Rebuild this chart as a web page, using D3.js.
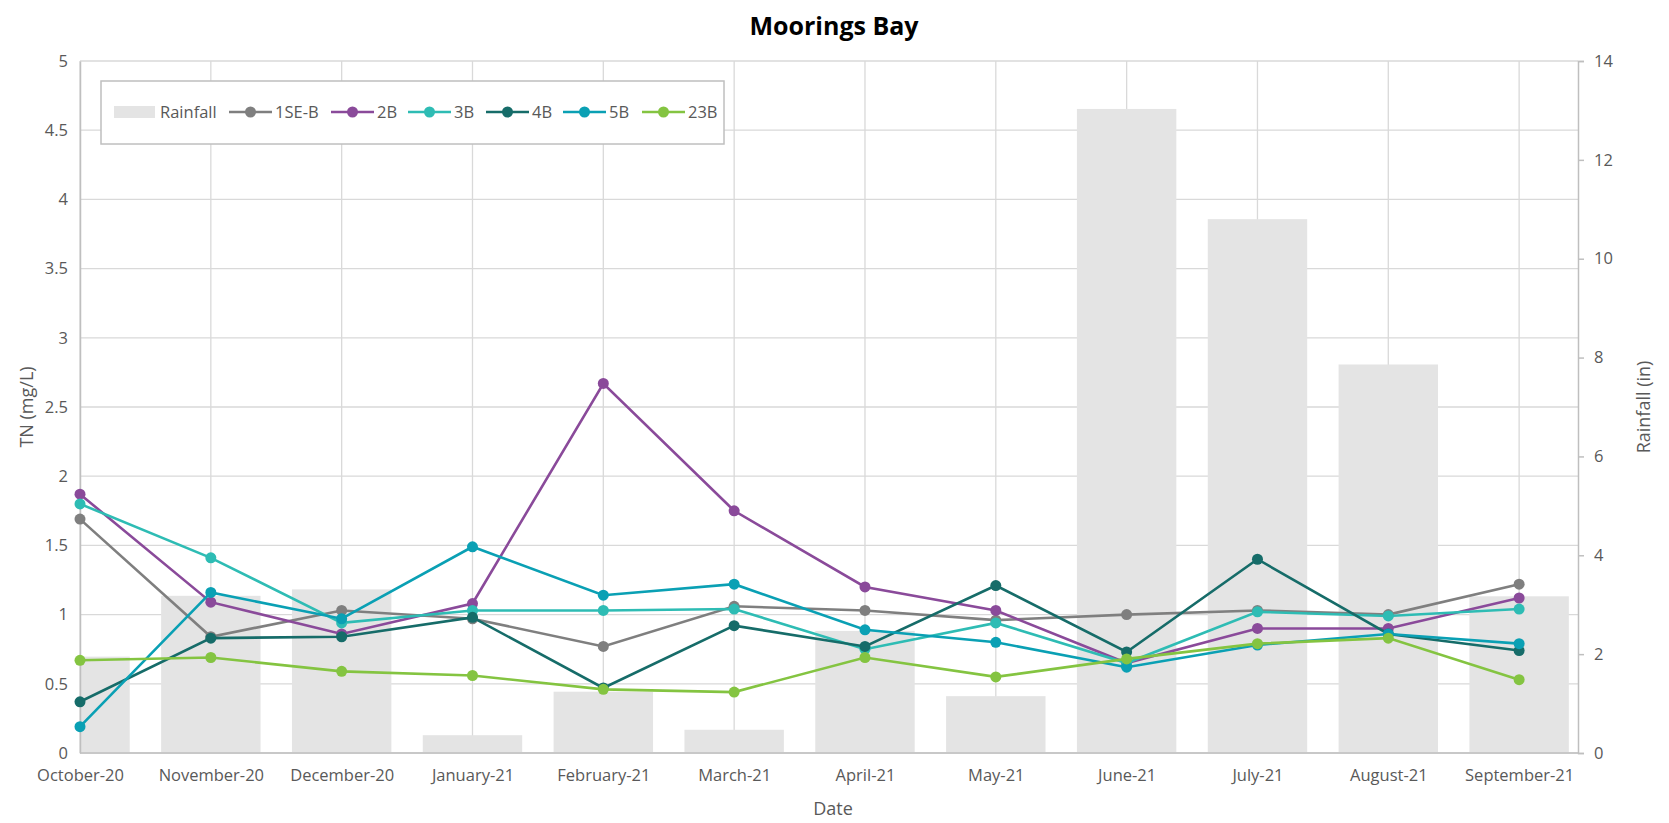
<!DOCTYPE html>
<meta charset="utf-8">
<style>
  body { margin: 0; background: #fff; }
  text { font-family: "Open Sans", "Noto Sans", sans-serif; }
</style>
<body>
<div id="chart"></div>
<script src="https://d3js.org/d3.v7.min.js"></script>
<script>

// data
var months = ["October-20", "November-20", "December-20", "January-21", "February-21", "March-21",
              "April-21", "May-21", "June-21", "July-21", "August-21", "September-21"];
var rainfall = [1.95, 3.18, 3.31, 0.36, 1.24, 0.47, 2.47, 1.15, 13.03, 10.8, 7.86, 3.17];
var tn1SEB = [1.69, 0.84, 1.03, 0.97, 0.77, 1.06, 1.03, 0.96, 1.00, 1.03, 1.00, 1.22];
var tn2B   = [1.87, 1.09, 0.86, 1.08, 2.67, 1.75, 1.20, 1.03, 0.65, 0.90, 0.90, 1.12];
var tn3B   = [1.80, 1.41, 0.94, 1.03, 1.03, 1.04, 0.75, 0.94, 0.65, 1.02, 0.99, 1.04];
var tn4B   = [0.37, 0.83, 0.84, 0.98, 0.47, 0.92, 0.77, 1.21, 0.73, 1.40, 0.86, 0.74];
var tn5B   = [0.19, 1.16, 0.97, 1.49, 1.14, 1.22, 0.89, 0.80, 0.62, 0.78, 0.86, 0.79];
var tn23B  = [0.67, 0.69, 0.59, 0.56, 0.46, 0.44, 0.69, 0.55, 0.68, 0.79, 0.83, 0.53];
var leftTicks = [0, 0.5, 1, 1.5, 2, 2.5, 3, 3.5, 4, 4.5, 5];
var rightTicks = [0, 2, 4, 6, 8, 10, 12, 14];

var series = [
  {name: "1SE-B", values: tn1SEB, color: "#7f7f7f"},
  {name: "2B",    values: tn2B,   color: "#8a4a9a"},
  {name: "3B",    values: tn3B,   color: "#2ebcb4"},
  {name: "4B",    values: tn4B,   color: "#166c69"},
  {name: "5B",    values: tn5B,   color: "#0aa0b4"},
  {name: "23B",   values: tn23B,  color: "#84c441"}
];

var W = 1669, H = 823;
var margin = {top: 61, right: 91, bottom: 70, left: 80};
var width = W - margin.left - margin.right,
    height = H - margin.top - margin.bottom;

var svg = d3.select("#chart").append("svg")
    .attr("width", W)
    .attr("height", H);

var g = svg.append("g")
    .attr("transform", "translate(" + margin.left + "," + margin.top + ")");

// categories sit on ticks, with a little room after the last one
var step = width / 11.45;
var x = d3.scalePoint()
  .domain(months)
  .range([0, step * 11]);

var y = d3.scaleLinear().domain([0, 5]).range([height, 0]);
var y2 = d3.scaleLinear().domain([0, 14]).range([height, 0]);

var gridColor = "#d9d9d9", axisColor = "#bfbfbf", textColor = "#595959";

svg.append("defs").append("clipPath").attr("id", "plotclip")
  .append("rect").attr("width", width).attr("height", height);

// gridlines
g.append("g").selectAll("line")
  .data(leftTicks)
  .enter().append("line")
    .attr("x1", 0).attr("x2", width)
    .attr("y1", function(d) { return y(d); })
    .attr("y2", function(d) { return y(d); })
    .attr("stroke", gridColor).attr("stroke-width", 1.3);

g.append("g").selectAll("line")
  .data(months)
  .enter().append("line")
    .attr("x1", function(d) { return x(d); })
    .attr("x2", function(d) { return x(d); })
    .attr("y1", 0).attr("y2", height)
    .attr("stroke", gridColor).attr("stroke-width", 1.3);

// rainfall bars
var barW = step * 0.76;
g.append("g").attr("clip-path", "url(#plotclip)")
  .selectAll("rect")
  .data(rainfall)
  .enter().append("rect")
    .attr("x", function(d, i) { return x(months[i]) - barW / 2; })
    .attr("width", barW)
    .attr("y", function(d) { return y2(d); })
    .attr("height", function(d) { return height - y2(d); })
    .attr("fill", "#e4e4e4");

// left axis
var yAxis = g.append("g")
  .call(d3.axisLeft(y).tickValues(leftTicks).tickSize(0).tickPadding(12).tickFormat(d3.format("")));
yAxis.select(".domain").attr("stroke", axisColor).attr("stroke-width", 1.5);
yAxis.selectAll("text").attr("fill", textColor).style("font-size", "16.5px");

// right axis
var y2Axis = g.append("g")
  .attr("transform", "translate(" + width + ",0)")
  .call(d3.axisRight(y2).tickValues(rightTicks).tickSize(6).tickPadding(10));
y2Axis.select(".domain").attr("stroke", axisColor).attr("stroke-width", 1.5);
y2Axis.selectAll(".tick line").attr("stroke", axisColor).attr("stroke-width", 1.5);
y2Axis.selectAll("text").attr("fill", textColor).style("font-size", "16.5px");

// bottom axis
var xAxis = g.append("g")
  .attr("transform", "translate(0," + height + ")")
  .call(d3.axisBottom(x).tickSize(0).tickPadding(16));
xAxis.select(".domain").attr("stroke", axisColor).attr("stroke-width", 1.5)
  .attr("d", "M0,0H" + width);
xAxis.selectAll("text").attr("fill", textColor).style("font-size", "16.5px");

// lines
var line = d3.line()
  .x(function(d, i) { return x(months[i]); })
  .y(function(d) { return y(d); });

series.forEach(function(s) {
  var sg = g.append("g");
  sg.append("path")
    .attr("d", line(s.values))
    .attr("fill", "none")
    .attr("stroke", s.color)
    .attr("stroke-width", 2.6);
  sg.selectAll("circle")
    .data(s.values)
    .enter().append("circle")
      .attr("cx", function(d, i) { return x(months[i]); })
      .attr("cy", function(d) { return y(d); })
      .attr("r", 5.5)
      .attr("fill", s.color);
});

// titles
svg.append("text")
  .attr("x", 834)
  .attr("y", 35)
  .attr("text-anchor", "middle")
  .style("font-size", "25px")
  .style("font-weight", "bold")
  .attr("fill", "#000")
  .text("Moorings Bay");

svg.append("text")
  .attr("transform", "translate(33," + (margin.top + height / 2) + ")rotate(-90)")
  .attr("text-anchor", "middle")
  .attr("fill", textColor)
  .style("font-size", "18px")
  .text("TN (mg/L)");

svg.append("text")
  .attr("transform", "translate(1650," + (margin.top + height / 2) + ")rotate(-90)")
  .attr("text-anchor", "middle")
  .attr("fill", textColor)
  .style("font-size", "18px")
  .text("Rainfall (in)");

svg.append("text")
  .attr("x", 833)
  .attr("y", 815)
  .attr("text-anchor", "middle")
  .attr("fill", textColor)
  .style("font-size", "18px")
  .text("Date");

// legend
var legend = svg.append("g").attr("transform", "translate(101,81)");
legend.append("rect")
  .attr("width", 623).attr("height", 63)
  .attr("fill", "#fff")
  .attr("stroke", "#bfbfbf").attr("stroke-width", 1.5);

var items = [{name: "Rainfall", bar: true}].concat(series);
var itemX = [13, 128, 230, 307, 385, 462, 541];
items.forEach(function(it, i) {
  var ig = legend.append("g").attr("transform", "translate(" + itemX[i] + ",31)");
  if (it.bar) {
    ig.append("rect").attr("x", 0).attr("y", -6).attr("width", 41).attr("height", 12).attr("fill", "#e4e4e4");
  } else {
    ig.append("line").attr("x1", 0).attr("x2", 43).attr("stroke", it.color).attr("stroke-width", 2.6);
    ig.append("circle").attr("cx", 21.5).attr("r", 5.5).attr("fill", it.color);
  }
  ig.append("text")
    .attr("x", 46).attr("y", 0).attr("dy", "0.35em")
    .attr("fill", textColor)
    .style("font-size", "16.5px")
    .text(it.name);
});

</script>
</body>
